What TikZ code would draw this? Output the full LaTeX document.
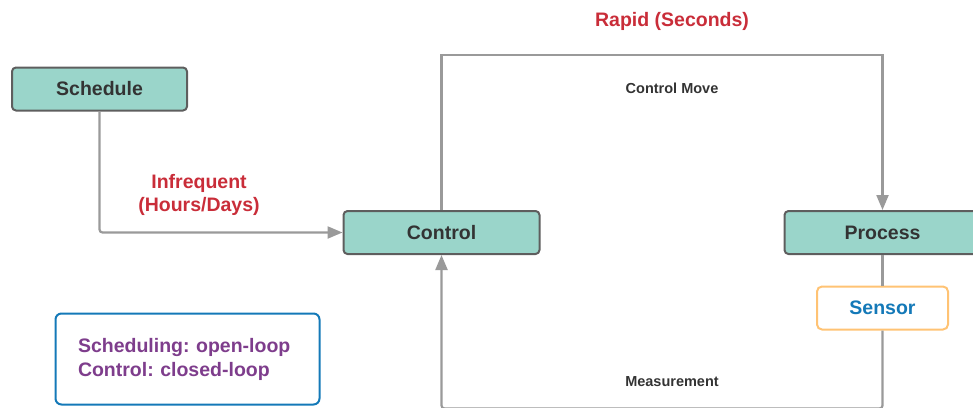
\documentclass[tikz,border=0pt]{standalone}
\usepackage{fontspec}
\setmainfont{Liberation Sans}
\usetikzlibrary{arrows.meta,positioning}
\frenchspacing

\definecolor{boxfill}{HTML}{9AD5CA}
\definecolor{boxline}{HTML}{5E5E5E}
\definecolor{flowgray}{HTML}{9A9A9A}
\definecolor{darktext}{HTML}{333333}
\definecolor{ratered}{HTML}{C92D39}
\definecolor{sensblue}{HTML}{1479B8}
\definecolor{sensline}{HTML}{FFC374}
\definecolor{notepurple}{HTML}{7E3D8C}

\begin{document}
\begin{tikzpicture}[x=1pt, y=-1pt,
  main/.style = {draw=boxline, fill=boxfill, line width=2pt, rounded corners=4pt,
    minimum height=43pt, text=darktext, font=\fontsize{19.5}{23}\selectfont\bfseries},
  sensor/.style = {draw=sensline, fill=white, line width=2pt, rounded corners=5pt,
    minimum width=131pt, minimum height=43pt, text=sensblue,
    font=\fontsize{19.5}{23}\selectfont\bfseries},
  note/.style = {draw=sensblue, line width=2pt, rounded corners=6pt,
    minimum width=264pt, minimum height=91pt, text width=219pt, align=left,
    text=notepurple, font=\fontsize{19.5}{24}\selectfont\bfseries},
  flow/.style = {draw=flowgray, line width=2.2pt, -{Triangle[length=15pt,width=12pt]}},
  wire/.style = {draw=flowgray, line width=2.2pt},
  lbl/.style = {text=darktext, font=\fontsize{14.5}{17}\selectfont\bfseries},
  rate/.style = {text=ratered, align=center, font=\fontsize{19.5}{23.5}\selectfont\bfseries}]
\useasboundingbox (0,0) rectangle (973,407);
\clip (0,0) rectangle (973,407);

% blocks
\node[main, minimum width=175pt] (sched) at (99.5,89) {Schedule};
\node[main, minimum width=196pt] (ctrl) at (441.5,232.5) {Control};
\node[main, minimum width=196pt] (proc) at (882.5,232.5) {Process};
\node[sensor] (sens) at (882.5,308) {Sensor};
\node[note] (legend) at (187.5,359) {Scheduling: open-loop\\Control: closed-loop};

% labels
\node[rate] (rapid) at (672,21.5) {Rapid (Seconds)};
\node[rate] (infreq) at (199,195) {Infrequent\\(Hours/Days)};
\node[lbl] (move) at (672,88) {Control Move};
\node[lbl] (meas) at (672,381.5) {Measurement};

% connections
\draw[flow, rounded corners=3pt] (sched.south) |- (ctrl.west);
\draw[flow] (ctrl.north) -- ++(0,-155) -| (proc.north);
\draw[wire] (proc.south) -- (sens.north);
\draw[flow, rounded corners=3pt] (sens.south) -- ++(0,78) -| (ctrl.south);
\end{tikzpicture}
\end{document}
